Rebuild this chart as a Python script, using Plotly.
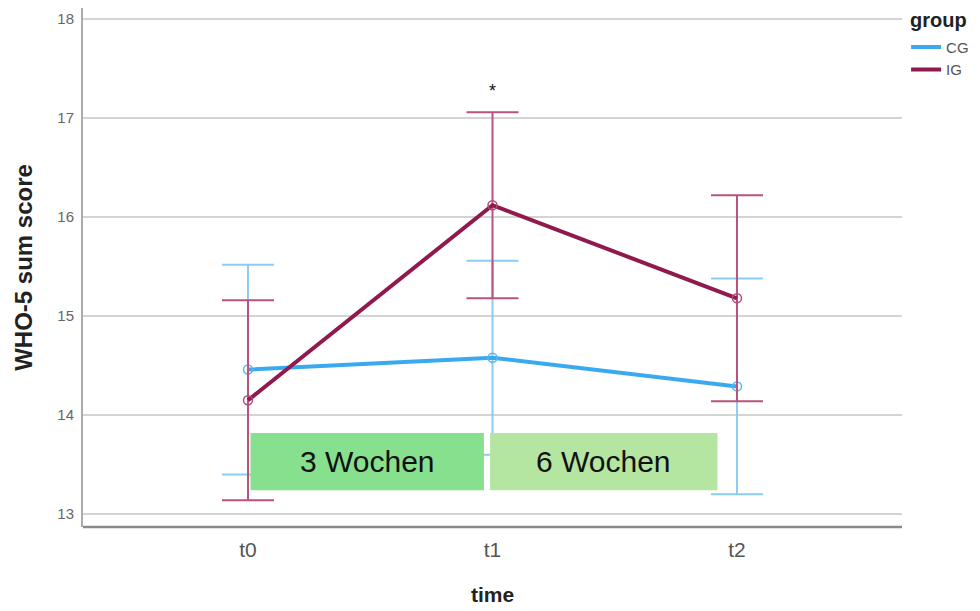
import plotly.graph_objects as go

times = ["t0", "t1", "t2"]
cg_mean = [14.46, 14.58, 14.29]
cg_err = [1.06, 0.98, 1.09]
ig_mean = [14.15, 16.12, 15.18]
ig_err = [1.01, 0.94, 1.04]
y_ticks = [13, 14, 15, 16, 17, 18]
phase_labels = ["3 Wochen", "6 Wochen"]

cg_line = "#3ba9ef"
ig_line = "#901a4e"

fig = go.Figure()
fig.add_trace(go.Scatter(
    x=times, y=cg_mean, name="CG", mode="lines+markers", showlegend=False,
    line=dict(color=cg_line, width=4),
    marker=dict(symbol="circle-open", size=9, color="#5ab5f0", line=dict(width=1.5)),
    error_y=dict(type="data", array=cg_err, visible=True, color="#8ccbf2", thickness=2, width=26),
))
fig.add_trace(go.Scatter(
    x=times, y=ig_mean, name="IG", mode="lines+markers", showlegend=False,
    line=dict(color=ig_line, width=4),
    marker=dict(symbol="circle-open", size=9, color="#b04a78", line=dict(width=1.5)),
    error_y=dict(type="data", array=ig_err, visible=True, color="#b9527e", thickness=2, width=26),
))
# legend-only entries (line symbol only)
fig.add_trace(go.Scatter(x=[None], y=[None], name="CG", mode="lines",
                         line=dict(color=cg_line, width=4)))
fig.add_trace(go.Scatter(x=[None], y=[None], name="IG", mode="lines",
                         line=dict(color=ig_line, width=4)))

# phase boxes
fig.add_shape(type="rect", xref="x", yref="y", x0=0.01, x1=0.965, y0=13.24, y1=13.82,
              fillcolor="#86e08e", line=dict(width=0), layer="above")
fig.add_shape(type="rect", xref="x", yref="y", x0=0.99, x1=1.92, y0=13.24, y1=13.82,
              fillcolor="#b4e5a1", line=dict(width=0), layer="above")
fig.add_annotation(x=0.4875, y=13.53, xref="x", yref="y", text=phase_labels[0], showarrow=False,
                   font=dict(family="Liberation Sans", size=30, color="#111"))
fig.add_annotation(x=1.455, y=13.53, xref="x", yref="y", text=phase_labels[1], showarrow=False,
                   font=dict(family="Liberation Sans", size=30, color="#111"))
fig.add_annotation(x=1, y=17.27, xref="x", yref="y", text="*", showarrow=False,
                   font=dict(family="Liberation Sans", size=18, color="#111"))

# legend title
fig.add_annotation(x=1.0085, y=1.0, xref="paper", yref="paper", xanchor="left", yanchor="top",
                   text="<b>group</b>", showarrow=False, borderpad=0,
                   font=dict(family="Liberation Sans", size=20, color="#222"))

# bottom axis line
fig.add_shape(type="line", xref="paper", yref="paper", x0=0, x1=1, y0=0, y1=0,
              line=dict(color="#8a8a8a", width=2.5))

fig.update_layout(
    width=980, height=611,
    margin=dict(l=75, r=86, t=0, b=92, autoexpand=False),
    paper_bgcolor="white", plot_bgcolor="white",
    font=dict(family="Liberation Sans"),
    showlegend=True,
    legend=dict(
        x=1.005, y=0.956, xanchor="left", yanchor="top",
        font=dict(size=15, color="#555"),
        itemwidth=30, tracegroupgap=0,
        bgcolor="rgba(0,0,0,0)",
    ),
    xaxis=dict(
        type="category", range=[-0.675, 2.675], automargin=False,
        showgrid=False, zeroline=False, showline=False,
        tickfont=dict(size=21, color="#555"),
        ticks="", ticklabelstandoff=8,
        title=dict(text="<b>time</b>", font=dict(size=21, color="#222"), standoff=27),
    ),
    yaxis=dict(
        range=[12.87, 18.112], tickvals=y_ticks, automargin=False,
        showgrid=True, gridcolor="#d4d4d4", gridwidth=1.5,
        zeroline=False, showline=True, linecolor="#ababab", linewidth=2,
        tickfont=dict(size=15, color="#666", family="Liberation Sans"),
        ticks="", ticklabelstandoff=4,
        title=dict(text="<b>WHO-5 sum score</b>", font=dict(size=24, color="#222"), standoff=18),
    ),
)

fig.write_html("out.html")
